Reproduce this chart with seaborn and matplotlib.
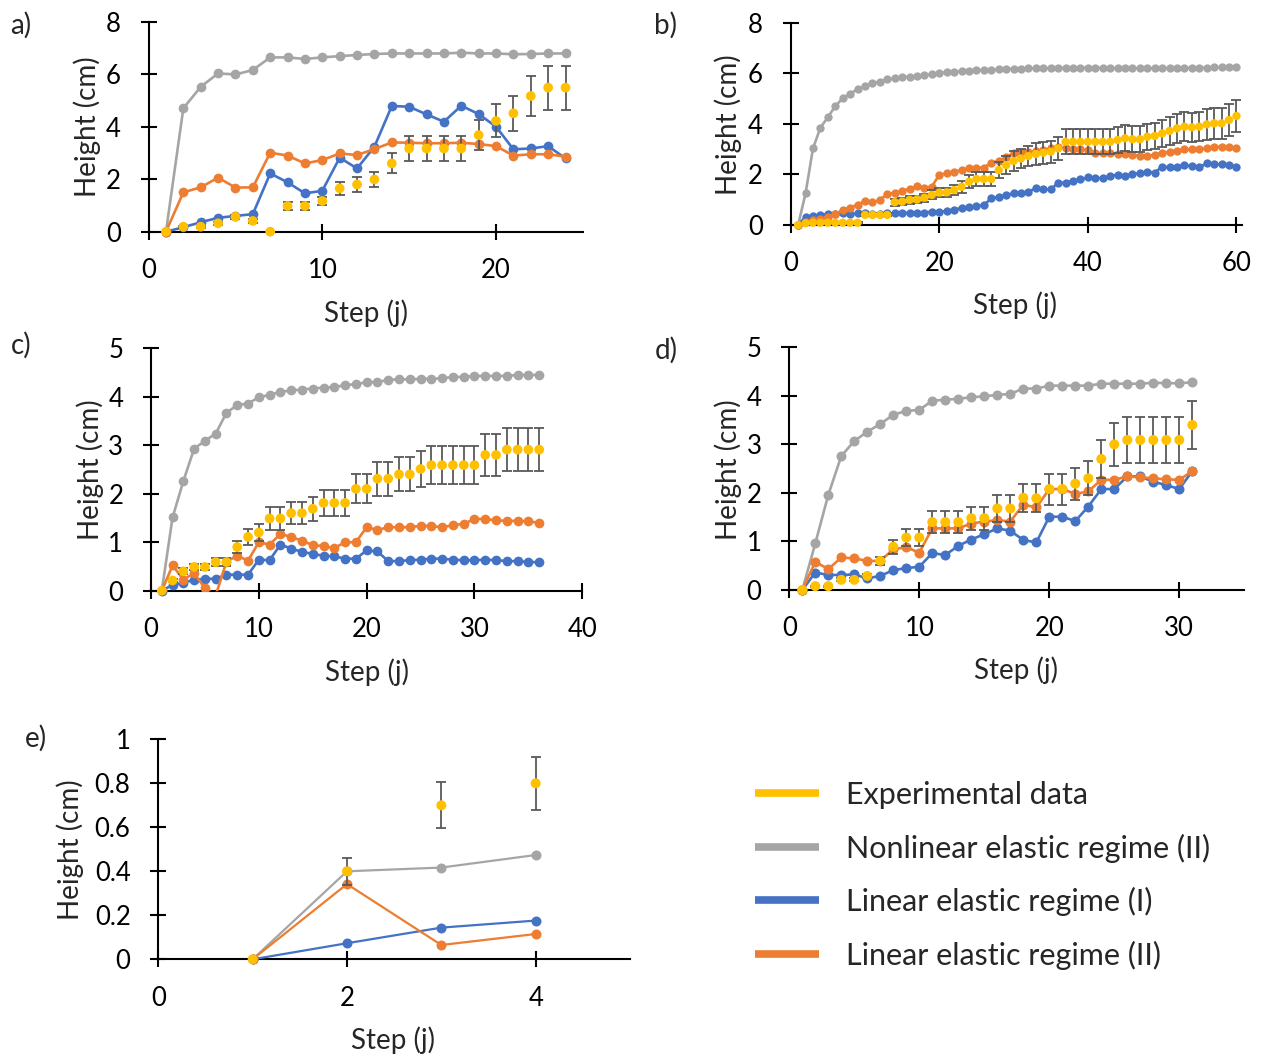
import numpy as np
import pandas as pd
import matplotlib
matplotlib.use("Agg")
import matplotlib.pyplot as plt
import seaborn as sns
from matplotlib.lines import Line2D
from matplotlib.ticker import FuncFormatter

# ---------------- data ----------------
a_gray = [0, 4.70, 5.52, 6.03, 5.99, 6.16, 6.64, 6.64, 6.58, 6.64, 6.69, 6.73, 6.77, 6.79, 6.79, 6.79,
          6.79, 6.82, 6.79, 6.79, 6.76, 6.77, 6.79, 6.79]
a_blue = [0, 0.17, 0.36, 0.53, 0.60, 0.67, 2.22, 1.88, 1.46, 1.56, 2.82, 2.41, 3.24, 4.79, 4.76, 4.47,
          4.19, 4.80, 4.48, 4.00, 3.14, 3.17, 3.26, 2.79]
a_orange = [0, 1.50, 1.69, 2.06, 1.68, 1.69, 3.01, 2.90, 2.60, 2.73, 2.98, 2.92, 3.15, 3.40, 3.39, 3.37,
            3.37, 3.39, 3.34, 3.26, 2.90, 2.95, 2.95, 2.86]
a_exp = [0, 0.19, 0.19, 0.32, 0.57, 0.41, 0, 0.98, 0.98, 1.17, 1.65, 1.80, 1.99, 2.60, 3.17, 3.17,
         3.17, 3.17, 3.68, 4.22, 4.51, 5.17, 5.49, 5.49]
a_err = [0, 0.03, 0.03, 0.05, 0.08, 0.06, 0, 0.16, 0.16, 0.16, 0.24, 0.27, 0.30, 0.38, 0.46, 0.46,
         0.46, 0.46, 0.56, 0.63, 0.66, 0.78, 0.84, 0.84]

b_gray = [0, 1.25, 3.03, 3.85, 4.26, 4.70, 5.01, 5.20, 5.36, 5.49, 5.60, 5.67, 5.76, 5.80, 5.84, 5.86,
          5.90, 5.93, 5.96, 6.02, 6.04, 6.06, 6.08, 6.10, 6.12, 6.13, 6.14, 6.15, 6.16, 6.17, 6.18, 6.19,
          6.20, 6.20, 6.21, 6.21, 6.22, 6.22, 6.22, 6.22, 6.21, 6.21, 6.21, 6.20, 6.20, 6.20, 6.20, 6.20,
          6.20, 6.20, 6.21, 6.21, 6.21, 6.22, 6.22, 6.22, 6.23, 6.24, 6.25, 6.26]
b_blue = [0, 0.33, 0.37, 0.40, 0.42, 0.42, 0.46, 0.42, 0.46, 0.46, 0.42, 0.42, 0.46, 0.46, 0.46, 0.49,
          0.49, 0.49, 0.53, 0.53, 0.55, 0.59, 0.69, 0.70, 0.75, 0.79, 1.05, 1.12, 1.19, 1.25, 1.25, 1.32,
          1.45, 1.41, 1.41, 1.67, 1.67, 1.75, 1.80, 1.88, 1.87, 1.84, 1.95, 1.98, 1.94, 2.02, 2.04, 2.11,
          2.07, 2.31, 2.28, 2.31, 2.37, 2.33, 2.28, 2.44, 2.41, 2.40, 2.37, 2.31]
b_orange = [0, 0.12, 0.18, 0.24, 0.30, 0.42, 0.60, 0.69, 0.80, 0.95, 0.89, 1.00, 1.22, 1.27, 1.35, 1.43,
            1.53, 1.47, 1.52, 1.99, 2.04, 2.11, 2.17, 2.24, 2.27, 2.27, 2.46, 2.53, 2.67, 2.86, 2.90, 2.90,
            2.92, 2.96, 3.03, 3.10, 3.03, 2.99, 2.99, 2.96, 2.86, 2.83, 2.83, 2.81, 2.79, 2.77, 2.74, 2.74,
            2.77, 2.86, 2.90, 2.94, 2.99, 2.99, 3.00, 3.03, 3.07, 3.10, 3.07, 3.03]
b_exp = [0, 0.07, 0.09, 0.09, 0.09, 0.09, 0.09, 0.09, 0.09, 0.40, 0.40, 0.40, 0.40, 0.90, 0.92, 0.99,
         1.01, 1.08, 1.19, 1.28, 1.29, 1.38, 1.51, 1.71, 1.82, 1.82, 1.82, 2.17, 2.37, 2.53, 2.63, 2.73,
         2.81, 2.86, 2.90, 3.03, 3.29, 3.29, 3.29, 3.29, 3.29, 3.29, 3.29, 3.36, 3.43, 3.39, 3.39, 3.49,
         3.52, 3.62, 3.72, 3.82, 3.89, 3.86, 3.89, 3.98, 4.02, 4.02, 4.15, 4.31]
b_err = [0, 0.01, 0.01, 0.01, 0.01, 0.01, 0.01, 0.01, 0.01, 0.06, 0.06, 0.06, 0.06, 0.14, 0.14, 0.15,
         0.15, 0.16, 0.18, 0.19, 0.19, 0.21, 0.23, 0.26, 0.27, 0.27, 0.27, 0.33, 0.36, 0.38, 0.39, 0.41,
         0.42, 0.43, 0.44, 0.45, 0.49, 0.49, 0.49, 0.49, 0.49, 0.49, 0.49, 0.50, 0.51, 0.51, 0.51, 0.52,
         0.53, 0.54, 0.56, 0.57, 0.58, 0.58, 0.58, 0.60, 0.60, 0.60, 0.62, 0.65]

c_gray = [0, 1.51, 2.26, 2.93, 3.09, 3.24, 3.67, 3.83, 3.86, 3.99, 4.04, 4.10, 4.13, 4.15, 4.17, 4.19,
          4.20, 4.24, 4.26, 4.30, 4.30, 4.35, 4.36, 4.36, 4.37, 4.37, 4.38, 4.41, 4.41, 4.43, 4.43, 4.43,
          4.43, 4.45, 4.45, 4.45]
c_blue = [0, 0.12, 0.16, 0.23, 0.24, 0.25, 0.33, 0.33, 0.33, 0.64, 0.63, 0.95, 0.87, 0.80, 0.76, 0.72,
          0.71, 0.66, 0.66, 0.83, 0.81, 0.61, 0.61, 0.63, 0.64, 0.66, 0.66, 0.64, 0.63, 0.63, 0.64, 0.63,
          0.61, 0.61, 0.59, 0.59]
c_orange = [0, 0.52, 0.23, 0.36, 0.05, -0.10, 0.60, 0.72, 0.62, 1.00, 0.95, 1.17, 1.11, 1.03, 0.94, 0.92,
            0.88, 1.00, 1.00, 1.31, 1.25, 1.31, 1.31, 1.31, 1.34, 1.33, 1.31, 1.35, 1.38, 1.48, 1.48, 1.45,
            1.44, 1.44, 1.43, 1.40]
c_exp = [0, 0.21, 0.40, 0.49, 0.49, 0.59, 0.59, 0.90, 1.11, 1.20, 1.49, 1.49, 1.60, 1.60, 1.69, 1.81,
         1.81, 1.81, 2.10, 2.10, 2.31, 2.31, 2.40, 2.40, 2.51, 2.59, 2.59, 2.59, 2.59, 2.59, 2.80, 2.80,
         2.91, 2.91, 2.91, 2.91]
c_err = [0, 0.03, 0.06, 0.07, 0.07, 0.09, 0.09, 0.13, 0.16, 0.18, 0.24, 0.24, 0.23, 0.23, 0.25, 0.26,
         0.26, 0.26, 0.30, 0.30, 0.35, 0.35, 0.35, 0.35, 0.38, 0.39, 0.39, 0.39, 0.39, 0.39, 0.43, 0.43,
         0.44, 0.44, 0.44, 0.44]

d_gray = [0, 0.96, 1.96, 2.76, 3.07, 3.26, 3.42, 3.61, 3.69, 3.71, 3.90, 3.92, 3.94, 3.97, 3.99, 4.02,
          4.04, 4.15, 4.15, 4.21, 4.21, 4.21, 4.21, 4.25, 4.25, 4.25, 4.25, 4.27, 4.26, 4.26, 4.28]
d_blue = [0, 0.36, 0.31, 0.31, 0.32, 0.24, 0.29, 0.41, 0.45, 0.48, 0.76, 0.72, 0.91, 1.04, 1.15, 1.27,
          1.22, 1.03, 0.98, 1.51, 1.51, 1.42, 1.72, 2.08, 2.08, 2.34, 2.34, 2.23, 2.16, 2.08, 2.45]
d_orange = [0, 0.58, 0.43, 0.67, 0.65, 0.60, 0.60, 0.84, 0.88, 0.77, 1.27, 1.27, 1.27, 1.37, 1.41, 1.44,
            1.41, 1.76, 1.70, 2.08, 2.08, 1.98, 2.03, 2.27, 2.27, 2.34, 2.32, 2.30, 2.28, 2.27, 2.45]
d_exp = [0, 0.08, 0.08, 0.21, 0.21, 0.29, 0.60, 0.89, 1.08, 1.08, 1.40, 1.40, 1.40, 1.48, 1.48, 1.68,
         1.68, 1.90, 1.89, 2.08, 2.08, 2.19, 2.30, 2.70, 3.00, 3.09, 3.09, 3.09, 3.09, 3.09, 3.40]
d_err = [0, 0.01, 0.01, 0.03, 0.03, 0.04, 0.09, 0.15, 0.17, 0.17, 0.22, 0.22, 0.22, 0.24, 0.24, 0.27,
         0.27, 0.29, 0.29, 0.32, 0.32, 0.33, 0.35, 0.40, 0.45, 0.47, 0.47, 0.47, 0.47, 0.47, 0.50]

e_gray = [0, 0.40, 0.417, 0.474]
e_blue = [0, 0.073, 0.144, 0.176]
e_orange = [0, 0.342, 0.065, 0.115]
e_exp = [0, 0.40, 0.70, 0.80]
e_err = [0, 0.06, 0.105, 0.12]

legend_labels = ["Experimental data", "Nonlinear elastic regime (II)",
                 "Linear elastic regime (I)", "Linear elastic regime (II)"]
panel_letters = ["a)", "b)", "c)", "d)", "e)"]
y_label = "Height (cm)"
x_label = "Step (j)"

# ---------------- style ----------------
sns.set_theme(style="white")
plt.rcParams["font.family"] = ["Lato", "DejaVu Sans"]

C_EXP, C_NL, C_L1, C_L2, C_ERR = "#FFC000", "#A5A5A5", "#4472C4", "#ED7D31", "#595959"
W, H = 1263, 1059
fig = plt.figure(figsize=(W / 100, H / 100), dpi=100)
TICK_FS = 18.5
LABEL_FS = 20


def ax_px(x0, x1, ytop, ybot):
    return fig.add_axes([x0 / W, 1 - ybot / H, (x1 - x0) / W, (ybot - ytop) / H])


panels = [
    dict(data=(a_gray, a_blue, a_orange, a_exp, a_err), box=(148.6, 582.9, 21.7, 231.7),
         xlim=(0, 25), ylim=(0, 8), xt=[0, 10, 20], yt=[0, 2, 4, 6, 8], ms=7.0, lw=1.9,
         ylab=(87, 127), xlab=(366, 313), let=(21, 25)),
    dict(data=(b_gray, b_blue, b_orange, b_exp, b_err), box=(790.7, 1242.4, 22.7, 225.0),
         xlim=(0, 60.8), ylim=(0, 8), xt=[0, 20, 40, 60], yt=[0, 2, 4, 6, 8], ms=6.0, lw=1.9,
         ylab=(728, 125), xlab=(1015, 305), let=(666, 25)),
    dict(data=(c_gray, c_blue, c_orange, c_exp, c_err), box=(151.0, 582.3, 348.3, 590.7),
         xlim=(0, 40), ylim=(0, 5), xt=[0, 10, 20, 30, 40], yt=[0, 1, 2, 3, 4, 5], ms=7.0, lw=1.9,
         ylab=(90, 470), xlab=(367, 672), let=(21, 345)),
    dict(data=(d_gray, d_blue, d_orange, d_exp, d_err), box=(789.3, 1244.3, 347.3, 590.0),
         xlim=(0, 35), ylim=(0, 5), xt=[0, 10, 20, 30], yt=[0, 1, 2, 3, 4, 5], ms=7.2, lw=1.9,
         ylab=(728, 470), xlab=(1016, 670), let=(666, 350)),
    dict(data=(e_gray, e_blue, e_orange, e_exp, e_err), box=(158.3, 630.0, 739.3, 959.3),
         xlim=(0, 5), ylim=(0, 1), xt=[0, 2, 4], yt=[0, 0.2, 0.4, 0.6, 0.8, 1.0], ms=7.2, lw=1.6,
         ylab=(70, 850), xlab=(393, 1040), let=(36, 738)),
]

for i, p in enumerate(panels):
    gray, blue, orange, exp, err = [np.asarray(v, dtype=float) for v in p["data"]]
    steps = np.arange(1, len(gray) + 1)
    ax = ax_px(*p["box"])
    df = pd.DataFrame({"step": steps, "nl": gray, "l1": blue, "l2": orange, "exp": exp, "err": err})

    for col, colr, z in [("nl", C_NL, 2), ("l1", C_L1, 3), ("l2", C_L2, 4)]:
        clip = bool((df[col] < 0).any())
        sns.lineplot(data=df, x="step", y=col, ax=ax, color=colr, linewidth=p["lw"],
                     marker="o", markersize=p["ms"], markeredgewidth=0, zorder=z,
                     clip_on=clip, estimator=None)
    m = df["err"] > 0
    ax.errorbar(df.loc[m, "step"], df.loc[m, "exp"], yerr=df.loc[m, "err"], fmt="none",
                ecolor=C_ERR, elinewidth=1.3, capsize=3.8, capthick=1.3, zorder=5, clip_on=False)
    sns.scatterplot(data=df, x="step", y="exp", ax=ax, color=C_EXP, s=p["ms"] ** 2,
                    edgecolor="none", linewidth=0, zorder=6, clip_on=False)

    ax.set_xlim(*p["xlim"])
    ax.set_ylim(*p["ylim"])
    ax.set_xticks(p["xt"])
    ax.set_yticks(p["yt"])
    ax.yaxis.set_major_formatter(FuncFormatter(lambda v, pos: f"{v:g}"))
    ax.xaxis.set_major_formatter(FuncFormatter(lambda v, pos: f"{v:g}"))
    ax.set_xlabel("")
    ax.set_ylabel("")
    for s in ["top", "right"]:
        ax.spines[s].set_visible(False)
    for s in ["left", "bottom"]:
        ax.spines[s].set_color("black")
        ax.spines[s].set_linewidth(1.5)
    ax.tick_params(axis="both", which="major", direction="inout", length=12, width=1.5,
                   colors="black", labelsize=TICK_FS, bottom=True, left=True)
    ax.tick_params(axis="y", pad=14)
    ax.tick_params(axis="x", pad=13)
    ax.patch.set_alpha(0)

    fig.text(p["ylab"][0] / W, 1 - p["ylab"][1] / H, y_label, rotation=90, ha="center",
             va="center", fontsize=LABEL_FS)
    fig.text(p["xlab"][0] / W, 1 - p["xlab"][1] / H, x_label, ha="center", va="center",
             fontsize=LABEL_FS)
    fig.text(p["let"][0] / W, 1 - p["let"][1] / H, panel_letters[i], ha="center", va="center",
             fontsize=LABEL_FS)

handles = [Line2D([0], [0], color=c, linewidth=5.5, solid_capstyle="butt")
           for c in (C_EXP, C_NL, C_L1, C_L2)]
fig.legend(handles, legend_labels, loc="upper left", bbox_to_anchor=(755 / W, 1 - 781 / H),
           frameon=False, fontsize=22, handlelength=2.1, handletextpad=0.87,
           labelspacing=0.8, borderpad=0, borderaxespad=0)

fig.savefig("out.png", dpi=100)
